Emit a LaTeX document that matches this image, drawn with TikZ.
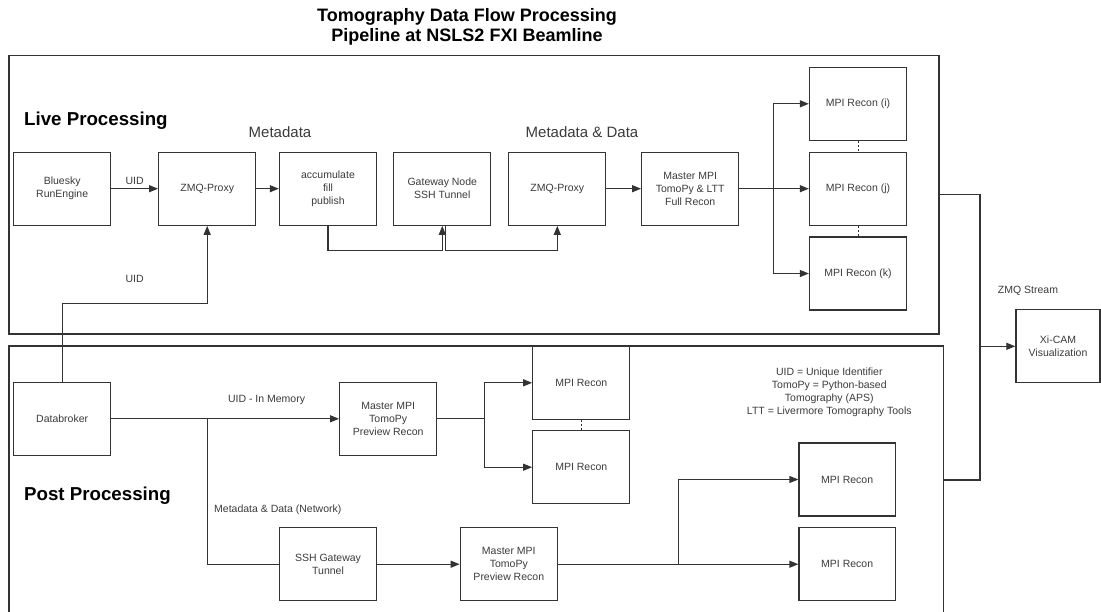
\documentclass[tikz,border=0pt]{standalone}
\usepackage{fontspec}
\setmainfont{Liberation Sans}
\usetikzlibrary{arrows.meta}
\definecolor{ln}{HTML}{333333}
\definecolor{tx}{HTML}{3A3A3A}
\begin{document}
\begin{tikzpicture}[x=1pt,y=-1pt,
  box/.style={draw=ln, line width=1.3pt, minimum width=97pt, minimum height=73pt, inner sep=0pt, align=center, text=tx, font=\fontsize{10.5}{13}\selectfont},
  frame/.style={draw=ln, line width=1.3pt, inner sep=0pt},
  conn/.style={draw=ln, line width=1.2pt},
  arr/.style={conn, -{Triangle[length=9pt,width=7pt]}},
  dots/.style={draw=ln, line width=1pt, dash pattern=on 2pt off 2pt},
  lbl/.style={text=tx, inner sep=0pt, font=\fontsize{10.5}{13}\selectfont},
  head/.style={text=tx, inner sep=0pt, font=\fontsize{15}{18}\selectfont},
  sect/.style={text=black, inner sep=0pt, font=\bfseries\fontsize{18.7}{21}\selectfont, anchor=west},
]
\useasboundingbox (0,0) rectangle (1101,611);
\clip (0,0) rectangle (1101,611);

% title
\node[align=center, inner sep=0pt, font=\bfseries\fontsize{18}{20.5}\selectfont] (title) at (467,27) {Tomography Data Flow Processing\\Pipeline at NSLS2 FXI Beamline};

% frames
\node[frame, minimum width=930pt, minimum height=278.3pt] (live) at (474,194.85) {};
\node[frame, minimum width=934.7pt, minimum height=268pt] (post) at (476.35,480) {};

\node[sect] (livet) at (24,120.5) {Live Processing};
\node[sect] (postt) at (24,496) {Post Processing};
\node[head] (md1) at (280,132.3) {Metadata};
\node[head] (md2) at (582,132.3) {Metadata \& Data};

% live row
\node[box] (blue) at (62.2,188.7) {Bluesky\\RunEngine};
\node[box] (zmq1) at (207.2,188.7) {ZMQ-Proxy};
\node[box] (acc) at (328,188.7) {accumulate\\fill\\publish};
\node[box] (gw) at (442.3,188.7) {Gateway Node\\SSH Tunnel};
\node[box] (zmq2) at (557.3,188.7) {ZMQ-Proxy};
\node[box] (master) at (690.2,188.7) {Master MPI\\TomoPy \& LTT\\Full Recon};
\node[box] (mpii) at (858,103.8) {MPI Recon (i)};
\node[box] (mpij) at (858,188.7) {MPI Recon (j)};
\node[box] (mpik) at (858,273.5) {MPI Recon (k)};

\node[box, minimum width=84pt] (xicam) at (1058,346.3) {Xi-CAM\\Visualization};
\node[lbl] (zmqs) at (1028,290.7) {ZMQ Stream};

% post rows
\node[box] (db) at (62.2,418.8) {Databroker};
\node[box] (mprev1) at (388.2,418.8) {Master MPI\\TomoPy\\Preview Recon};
\node[box] (mpr1) at (581.3,382.8) {MPI Recon};
\node[box] (mpr2) at (581.3,467.2) {MPI Recon};
\node[box] (ssh) at (328,564.2) {SSH Gateway\\Tunnel};
\node[box] (mprev2) at (508.8,564.2) {Master MPI\\TomoPy\\Preview Recon};
\node[box, minimum width=96.3pt] (mpr3) at (847.2,479.5) {MPI Recon};
\node[box, minimum width=96.3pt] (mpr4) at (847.2,564.2) {MPI Recon};

\node[lbl, align=center] (legend) at (829.3,392.4) {UID = Unique Identifier\\TomoPy = Python-based\\Tomography (APS)\\LTT = Livermore Tomography Tools};

% live connectors
\draw[arr] (blue) -- node[lbl, above=4pt] (uidl) {UID} (zmq1);
\draw[arr] (zmq1) -- (acc);
\coordinate (j1) at (442.3,250.5);
\coordinate (j2) at (445.7,250.5);
\draw[arr] (acc.south) |- (j1) -- (gw.south);
\draw[arr] ([xshift=3.4pt]gw.south) -- (j2) -| (zmq2.south);
\draw[arr] (zmq2) -- (master);
\coordinate (br1) at (773.7,188.7);
\draw[arr] (master) -- (mpij);
\draw[arr] (br1) |- (mpii.west);
\draw[arr] (br1) |- (mpik.west);
\draw[dots] (mpii.south) -- (mpij.north);
\draw[dots] (mpij.south) -- (mpik.north);

% UID from databroker
\coordinate (u1) at (62.2,303.3);
\draw[arr] (db.north) -- (u1) -| (zmq1.south);
\node[lbl] (uid2) at (134.7,279.3) {UID};

% post connectors
\coordinate (j3) at (207.2,418.8);
\draw[arr] (db.east) -- (j3) -- node[lbl, above=14pt, pos=0.45] (uidm) {UID - In Memory} (mprev1.west);
\draw[conn] (j3) |- (ssh.west);
\node[lbl, anchor=west] (mdn) at (214,509.3) {Metadata \& Data (Network)};
\draw[arr] (ssh) -- (mprev2);
\coordinate (br2) at (484.3,418.8);
\draw[conn] (mprev1.east) -- (br2);
\draw[arr] (br2) |- (mpr1.west);
\draw[arr] (br2) |- (mpr2.west);
\draw[dots] (mpr1.south) -- (mpr2.north);
\coordinate (br3) at (678.7,564.2);
\draw[arr] (mprev2) -- (mpr4);
\draw[arr] (br3) |- (mpr3.west);

% stream to Xi-CAM
\coordinate (s1) at (980,480);
\draw[conn] (live.east) -| (s1) -- (post.east);
\draw[arr] (xicam.west -| s1) -- (xicam.west);
\end{tikzpicture}
\end{document}
